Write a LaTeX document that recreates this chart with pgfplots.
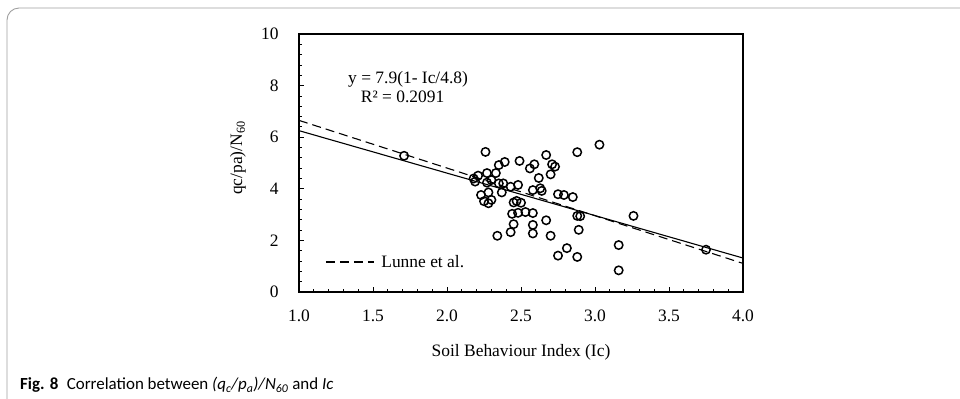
\documentclass[border=0pt]{standalone}
\usepackage{fontspec}
\setmainfont{Liberation Serif}
\newfontfamily\capfont{Carlito}
\usepackage{pgfplots}
\pgfplotsset{compat=1.18}
\begin{document}
\begin{tikzpicture}[x=1bp,y=1bp]
\useasboundingbox (0,0) rectangle (960,-398);
\draw[gray!75, line width=0.9bp, rounded corners=12bp] (7,-400) -- (7,-8) -- (962,-8);
\begin{axis}[
  at={(299bp,-292bp)}, anchor=south west, scale only axis,
  width=444bp, height=258bp,
  xmin=1, xmax=4, ymin=0, ymax=10,
  xtick={1,1.5,2,2.5,3,3.5,4}, ytick={0,2,4,6,8,10},
  minor x tick num=4, minor y tick num=4,
  tick align=inside, xtick pos=left, ytick pos=left,
  major tick length=5bp, minor tick length=3bp,
  axis line style={line width=1.3bp},
  every tick/.style={black, line width=0.8bp},
  tick label style={font=\fontsize{17.5}{20}\selectfont},
  /pgf/number format/assume math mode=true,
  yticklabel style={xshift=-17bp},
  xticklabel style={yshift=-14bp},
  x tick label style={/pgf/number format/fixed, /pgf/number format/fixed zerofill, /pgf/number format/precision=1},
  legend style={draw=none, fill=none, inner sep=0pt, at={(axis cs:1.176,1.163)}, anchor=west,
    font=\fontsize{17.5}{20}\selectfont, nodes={inner sep=1bp}},
  legend image code/.code={\draw[#1] (0bp,0bp) -- (48bp,0bp);},
  clip=false,
]
\addplot[forget plot, only marks, mark=o, mark size=4.2bp, mark options={line width=1.5bp, black}] coordinates {
(1.71,5.28) (2.26,5.43) (2.18,4.40) (2.19,4.28) (2.21,4.51) (2.27,4.61) (2.33,4.61)
(2.35,4.92) (2.39,5.04) (2.27,4.24) (2.30,4.34) (2.35,4.21) (2.38,4.21) (2.43,4.08)
(2.48,4.15) (2.37,3.86) (2.28,3.86) (2.23,3.76) (2.25,3.52) (2.28,3.44) (2.30,3.57)
(2.45,3.47) (2.47,3.53) (2.50,3.46) (2.49,5.08) (2.56,4.79) (2.59,4.95) (2.62,4.42)
(2.58,3.95) (2.63,4.02) (2.64,3.92) (2.67,5.31) (2.71,4.95) (2.73,4.86) (2.70,4.56)
(2.75,3.79) (2.79,3.76) (2.85,3.68) (2.88,5.42) (3.03,5.71) (2.44,3.03) (2.48,3.07)
(2.53,3.10) (2.58,3.06) (2.45,2.63) (2.43,2.32) (2.58,2.60) (2.58,2.27) (2.67,2.78)
(2.70,2.18) (2.34,2.18) (2.88,2.95) (2.90,2.94) (2.89,2.41) (2.81,1.70) (2.75,1.41)
(2.88,1.36) (3.16,1.82) (3.16,0.84) (3.26,2.95) (3.75,1.64)
};
\addplot[forget plot, black, line width=1.1bp] coordinates {(1,6.254) (4,1.317)};
\addplot[black, line width=1.1bp, dash pattern=on 9bp off 5bp] coordinates {(1,6.652) (4,1.109)};
\addlegendentry{\hspace{6bp}Lunne et al.}
\node[font=\fontsize{17.5}{20}\selectfont] at (axis cs:1.737,8.26) {y = 7.9(1- Ic/4.8)};
\node[font=\fontsize{17.5}{20}\selectfont] at (axis cs:1.70,7.56) {R² = 0.2091};
\end{axis}
\node[font=\fontsize{17.5}{20}\selectfont] at (521,-352) {Soil Behaviour Index (Ic)};
\node[font=\fontsize{17.5}{20}\selectfont, rotate=90] at (238,-158) {qc/pa)/N\textsubscript{60}};
\node[font=\capfont\fontsize{17}{20}\selectfont, anchor=west, inner sep=0pt] at (20,-385)
  {\textbf{Fig. 8}\enspace Correlation between \textit{(q\textsubscript{c}/p\textsubscript{a})/N\textsubscript{60}} and \textit{Ic}};
\end{tikzpicture}
\end{document}
